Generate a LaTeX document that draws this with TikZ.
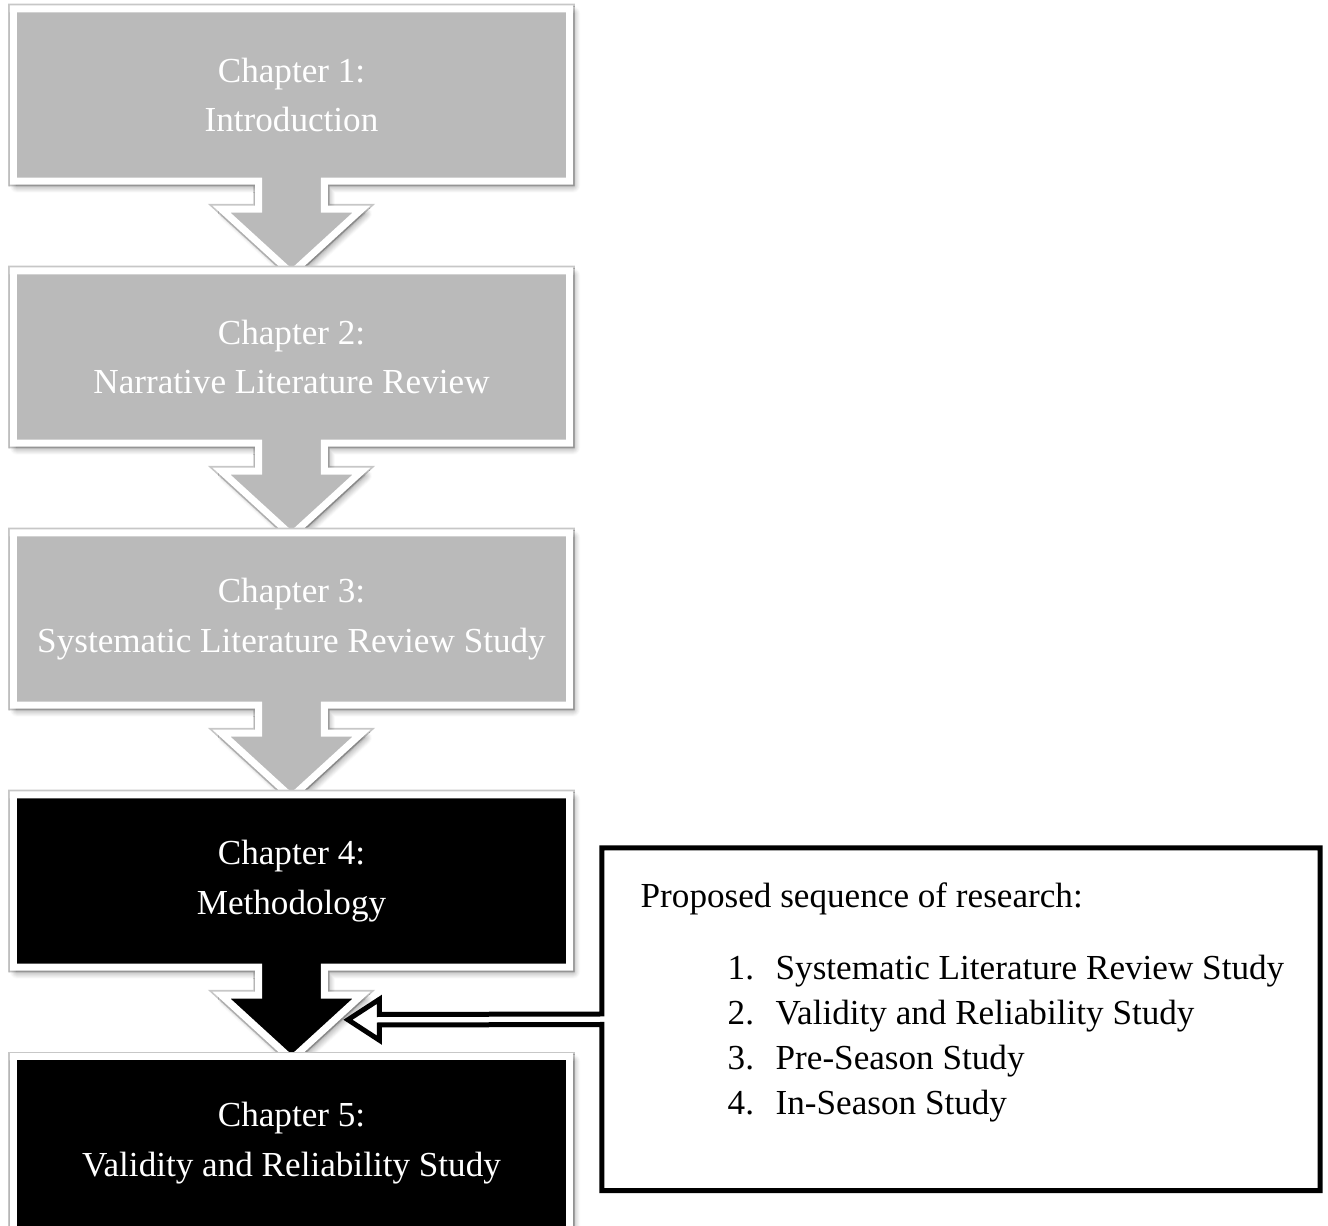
\documentclass[tikz,border=0pt]{standalone}
\usepackage{fontspec}
\setmainfont{Liberation Serif}
\usetikzlibrary{positioning, backgrounds, shadows.blur}

\begin{document}
\begin{tikzpicture}[
    x=0.1mm, y=-0.1mm,
    node distance=26.2mm,
    on grid,
    chapter/.style={text=white, align=center, minimum width=55.5mm, minimum height=17.1mm, font=\fontsize{10pt}{14.2pt}\selectfont},
    panel/.style={draw=white, line width=0.7mm, line join=miter,
        preaction={draw=black!22, line width=1.05mm},
        blur shadow={shadow xshift=0.35mm, shadow yshift=-0.45mm, shadow opacity=50, shadow blur radius=0.7mm, shadow blur steps=8}},
    callout/.style={draw=black, fill=white, line width=0.5mm, line join=miter},
    plain/.style={inner sep=0pt, font=\fontsize{10pt}{12.8pt}\selectfont}
]
   \useasboundingbox (0,0) rectangle (1328,1226);

   % Chapters
   \node[chapter] (ch1) at (291.5,95) {Chapter 1:\\Introduction};
   \node[chapter] (ch2) [below=of ch1] {Chapter 2:\\Narrative Literature Review};
   \node[chapter] (ch3) [below=of ch2] {Chapter 3:\\Systematic Literature Review Study};
   \node[chapter] (ch4) [below=of ch3] {Chapter 4:\\Methodology};
   \node[chapter] (ch5) [below=of ch4] {Chapter 5:\\Validity and Reliability Study};

   % Boxes with their down arrows
   \begin{scope}[on background layer]
   \foreach \n/\c in {ch1/black!27, ch2/black!27, ch3/black!27, ch4/black}
      \draw[panel, fill=\c] (\n.north west) -- (\n.north east) -- (\n.south east)
         -- ([xshift=3.3mm]\n.south) -- ([shift={(3.3mm,-2.8mm)}]\n.south)
         -- ([shift={(7mm,-2.8mm)}]\n.south) -- ([yshift=-9.2mm]\n.south)
         -- ([shift={(-7mm,-2.8mm)}]\n.south) -- ([shift={(-3.3mm,-2.8mm)}]\n.south)
         -- ([xshift=-3.3mm]\n.south) -- (\n.south west) -- cycle;
   \draw[panel, fill=black] (ch5.north west) rectangle (ch5.south east);
   \end{scope}

   % Research sequence box
   \node[minimum width=71.7mm, minimum height=34.15mm] (seqbox) at (961,1019.25) {};
   \coordinate (hint) at (348,1019.75);
   \draw[callout] ([yshift=-0.525mm]seqbox.west) -- (seqbox.south west) -- (seqbox.south east)
      -- (seqbox.north east) -- (seqbox.north west) -- ([yshift=0.525mm]seqbox.west)
      -- ([shift={(3.15mm,0.525mm)}]hint) -- ([shift={(3.15mm,2.05mm)}]hint) -- (hint)
      -- ([shift={(3.15mm,-2.05mm)}]hint) -- ([shift={(3.15mm,-0.525mm)}]hint) -- cycle;

   \node[plain, anchor=base west] (seqhead) at (640,908) {Proposed sequence of research:};
   \node[plain, anchor=base west] (seqlist) at (727,980) {%
      \begin{tabular}[t]{@{}p{4.8mm}@{}l@{}}
      1. & Systematic Literature Review Study\\
      2. & Validity and Reliability Study\\
      3. & Pre-Season Study\\
      4. & In-Season Study
      \end{tabular}};
\end{tikzpicture}
\end{document}
